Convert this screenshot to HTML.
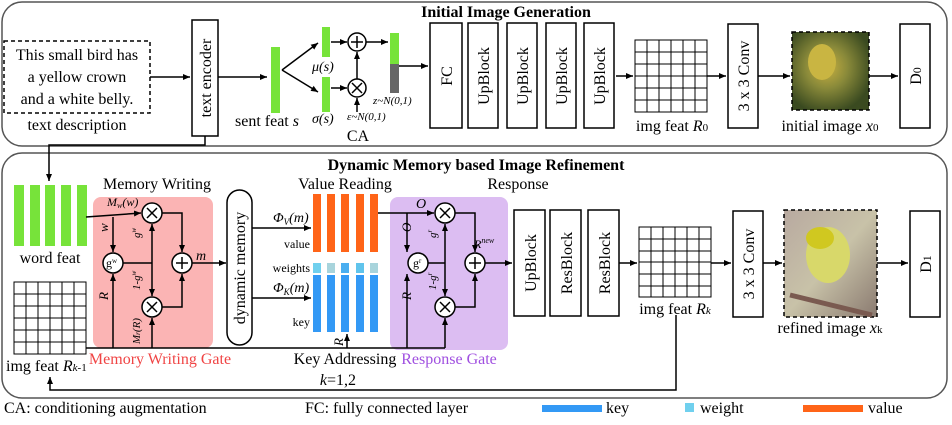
<!DOCTYPE html>
<html><head><meta charset="utf-8"><style>
body{margin:0;background:#fff}
svg,text,tspan{font-family:"Liberation Serif","DejaVu Serif",serif}
.t{font-size:16px}
.i{font-style:italic}
</style></head><body>
<svg width="952" height="420" viewBox="0 0 952 420" xmlns="http://www.w3.org/2000/svg" font-family="Liberation Serif, serif">
<defs>
<marker id="a" markerWidth="8" markerHeight="8" refX="7" refY="4" orient="auto" markerUnits="userSpaceOnUse"><path d="M0,1 L7,4 L0,7 z" fill="#000"/></marker>
<radialGradient id="b0" cx="0.45" cy="0.45" r="0.6"><stop offset="0" stop-color="#c8b040"/><stop offset="0.45" stop-color="#8a8a3a"/><stop offset="1" stop-color="#3a4a20"/></radialGradient>
<linearGradient id="b1" x1="0" y1="0" x2="1" y2="1"><stop offset="0" stop-color="#b8a9a0"/><stop offset="0.5" stop-color="#c8c2a8"/><stop offset="1" stop-color="#8a7a70"/></linearGradient>
</defs>
<g fill="none" stroke="#555" stroke-width="1.5">
<rect x="2" y="2" width="945" height="144" rx="20"/>
<rect x="2" y="153" width="945" height="245" rx="20"/>
</g>
<g font-weight="bold" font-size="16" text-anchor="middle">
<text x="506" y="17">Initial Image Generation</text>
<text x="476" y="170">Dynamic Memory based Image Refinement</text>
</g>
<!-- top -->
<rect x="4" y="41" width="146" height="72" fill="none" stroke="#000" stroke-width="1.5" stroke-dasharray="4,3"/>
<g class="t" text-anchor="middle">
<text x="77" y="60">This small bird has</text>
<text x="77" y="82">a yellow crown</text>
<text x="77" y="104">and a white belly.</text>
<text x="77" y="130">text description</text>
</g>
<g stroke="#000" stroke-width="1.5" fill="none" marker-end="url(#a)">
<line x1="150" y1="77" x2="190" y2="77"/>
<line x1="218" y1="77" x2="267" y2="77"/>
<line x1="282" y1="70" x2="318" y2="43"/>
<line x1="282" y1="70" x2="318" y2="92"/>
<line x1="331" y1="42" x2="347" y2="42"/>
<line x1="331" y1="88" x2="347" y2="88"/>
<line x1="357" y1="79" x2="357" y2="52"/>
<line x1="357" y1="112" x2="357" y2="98"/>
<line x1="366" y1="42" x2="388" y2="42"/>
<line x1="398" y1="66" x2="428" y2="66"/>
<line x1="616" y1="76" x2="633" y2="76"/>
<line x1="707" y1="76" x2="726" y2="76"/>
<line x1="758" y1="76" x2="790" y2="76"/>
<line x1="869" y1="76" x2="898" y2="76"/>
<polyline points="205,136 205,145 49,145 49,181"/>
</g>
<g fill="#fff" stroke="#000" stroke-width="1.5">
<rect x="192" y="20" width="26" height="116"/>
<rect x="430" y="23" width="32" height="105"/>
<rect x="468" y="23" width="30" height="105"/>
<rect x="507" y="23" width="30" height="105"/>
<rect x="546" y="23" width="30" height="105"/>
<rect x="584" y="23" width="30" height="105"/>
<rect x="728" y="24" width="30" height="104"/>
<rect x="900" y="24" width="30" height="104"/>
<circle cx="357" cy="42" r="9"/><circle cx="357" cy="88" r="9"/>
</g>
<g stroke="#000" stroke-width="1.5">
<path d="M351,42h12M357,36v12"/>
<path d="M352,83l10,10M362,83l-10,10"/>
</g>
<rect x="271" y="47" width="9" height="66" fill="#77e33a"/>
<rect x="322" y="27" width="8" height="30" fill="#77e33a"/>
<rect x="322" y="77" width="8" height="35" fill="#77e33a"/>
<rect x="390" y="33" width="9" height="31" fill="#77e33a"/>
<rect x="390" y="64" width="9" height="29" fill="#666"/>
<g class="t">
<text x="235" y="126">sent feat <tspan class="i">s</tspan></text>
<text x="312" y="71" class="i" font-size="14">μ(s)</text>
<text x="312" y="123" class="i" font-size="14">σ(s)</text>
<text x="347" y="120" class="i" font-size="11">ε~N(0,1)</text>
<text x="373" y="104" class="i" font-size="11">z~N(0,1)</text>
<text x="358" y="141" text-anchor="middle">CA</text>
</g>
<!-- grids -->
<g fill="none" stroke="#000" stroke-width="1">
<rect x="635" y="40" width="72" height="72"/>
<path d="M647,40v72M659,40v72M671,40v72M683,40v72M695,40v72M635,52h72M635,64h72M635,76h72M635,88h72M635,100h72"/>
<rect x="14" y="282" width="72" height="72"/>
<path d="M26,282v72M38,282v72M50,282v72M62,282v72M74,282v72M14,294h72M14,306h72M14,318h72M14,330h72M14,342h72"/>
<rect x="639" y="227" width="72" height="70"/>
<path d="M651,227v70M663,227v70M675,227v70M687,227v70M699,227v70M639,239h72M639,251h72M639,262h72M639,274h72M639,286h72"/>
</g>
<text x="672" y="131" class="t" text-anchor="middle">img feat <tspan class="i">R</tspan><tspan font-size="11">0</tspan></text>
<rect x="792" y="32" width="77" height="78" fill="url(#b0)" stroke="#000" stroke-width="1.5" stroke-dasharray="4,3"/>
<ellipse cx="822" cy="62" rx="14" ry="18" fill="#c9b542"/>
<text x="830" y="131" class="t" text-anchor="middle">initial image <tspan class="i">x</tspan><tspan font-size="11">0</tspan></text>
<!-- bottom -->
<g fill="#77e33a"><rect x="14" y="185" width="10" height="61"/><rect x="30" y="185" width="10" height="61"/><rect x="45" y="185" width="10" height="61"/><rect x="61" y="185" width="10" height="61"/><rect x="77" y="185" width="10" height="61"/></g>
<text x="50" y="263" class="t" text-anchor="middle" font-size="17">word feat</text>
<text x="6" y="371" class="t" font-size="17">img feat <tspan class="i">R</tspan><tspan font-size="11" class="i">k</tspan><tspan font-size="11">-1</tspan></text>
<rect x="93" y="197" width="120" height="151" rx="8" fill="#fbb4b4"/>
<rect x="390" y="197" width="118" height="153" rx="8" fill="#dcbdf2"/>
<g class="t" text-anchor="middle" font-size="14">
<text x="157" y="189">Memory Writing</text>
<text x="345" y="189">Value Reading</text>
<text x="518" y="189">Response</text>
<text x="160" y="364" fill="#f04444">Memory Writing Gate</text>
<text x="345" y="364">Key Addressing</text>
<text x="449" y="364" fill="#a050e0">Response Gate</text>
<text x="338" y="385"><tspan class="i">k</tspan>=1,2</text>
</g>
<rect x="227" y="190" width="25" height="155" rx="12.5" fill="#fff" stroke="#000" stroke-width="1.5"/>
<text transform="translate(245,268) rotate(-90)" class="t" font-size="17" text-anchor="middle">dynamic memory</text>
<g fill="#ff6418"><rect x="313" y="194" width="8" height="58"/><rect x="327" y="194" width="8" height="58"/><rect x="341" y="194" width="8" height="58"/><rect x="356" y="194" width="8" height="58"/><rect x="370" y="194" width="8" height="58"/></g>
<rect x="313" y="263" width="8" height="10" fill="#70d0ee"/><rect x="327" y="263" width="8" height="10" fill="#a8d4dc"/><rect x="341" y="263" width="8" height="10" fill="#4aaef0"/><rect x="356" y="263" width="8" height="10" fill="#60c4ec"/><rect x="370" y="263" width="8" height="10" fill="#a8d4dc"/>
<g fill="#3399f5"><rect x="313" y="275" width="8" height="57"/><rect x="327" y="275" width="8" height="57"/><rect x="341" y="275" width="8" height="57"/><rect x="356" y="275" width="8" height="57"/><rect x="370" y="275" width="8" height="57"/></g>
<g font-size="12" text-anchor="end"><text x="310" y="248">value</text><text x="310" y="272">weights</text><text x="310" y="326">key</text></g>
<g class="i" font-size="14">
<text x="273" y="222">Φ<tspan font-size="9" dy="3">V</tspan><tspan dy="-3">(m)</tspan></text>
<text x="273" y="292">Φ<tspan font-size="9" dy="3">K</tspan><tspan dy="-3">(m)</tspan></text>
<text x="107" y="206" font-size="12">M<tspan font-size="8" dy="2">w</tspan><tspan dy="-2">(w)</tspan></text>
<text x="196" y="260">m</text>
<text x="416" y="208">O</text>
<text x="474" y="248" font-size="12">R<tspan font-size="8" dy="-5">new</tspan></text>
</g>
<g class="i" font-size="13">
<text transform="translate(108,232) rotate(-90)">w</text>
<text transform="translate(108,300) rotate(-90)">R</text>
<text transform="translate(140,238) rotate(-90)" font-size="11">g<tspan font-size="7" dy="-4">w</tspan></text>
<text transform="translate(140,290) rotate(-90)" font-size="11">1-g<tspan font-size="7" dy="-4">w</tspan></text>
<text transform="translate(140,344) rotate(-90)" font-size="11">M<tspan font-size="7">r</tspan>(R)</text>
<text transform="translate(343,346) rotate(-90)">R</text>
<text transform="translate(411,232) rotate(-90)">O</text>
<text transform="translate(411,300) rotate(-90)">R</text>
<text transform="translate(436,238) rotate(-90)" font-size="11">g<tspan font-size="7" dy="-4">r</tspan></text>
<text transform="translate(436,290) rotate(-90)" font-size="11">1-g<tspan font-size="7" dy="-4">r</tspan></text>
</g>
<g stroke="#000" stroke-width="1.5" fill="none" marker-end="url(#a)">
<line x1="86" y1="217" x2="141" y2="213"/>
<line x1="113" y1="217" x2="113" y2="252"/>
<line x1="113" y1="348" x2="113" y2="274"/>
<line x1="152" y1="263" x2="152" y2="224"/>
<line x1="152" y1="263" x2="152" y2="296"/>
<line x1="152" y1="348" x2="152" y2="318"/>
<polyline points="162,213 182,213 182,252"/>
<polyline points="162,307 182,307 182,274"/>
<line x1="192" y1="263" x2="226" y2="263"/>
<line x1="252" y1="228" x2="311" y2="228"/>
<line x1="252" y1="298" x2="311" y2="298"/>
<line x1="347" y1="348" x2="347" y2="334"/>
<line x1="378" y1="213" x2="434" y2="213"/>
<line x1="407" y1="213" x2="407" y2="252"/>
<line x1="407" y1="348" x2="407" y2="274"/>
<line x1="445" y1="263" x2="445" y2="224"/>
<line x1="445" y1="263" x2="445" y2="296"/>
<line x1="445" y1="348" x2="445" y2="318"/>
<polyline points="455,213 475,213 475,252"/>
<polyline points="455,307 475,307 475,274"/>
<line x1="485" y1="263" x2="512" y2="263"/>
<line x1="619" y1="263" x2="637" y2="263"/>
<line x1="711" y1="263" x2="731" y2="263"/>
<line x1="763" y1="263" x2="782" y2="263"/>
<line x1="877" y1="263" x2="908" y2="263"/>
<polyline points="676,315 676,390 50,390 50,377"/>
</g>
<g stroke="#000" stroke-width="1.5" fill="none">
<line x1="86" y1="348" x2="445" y2="348"/>
<line x1="123" y1="263" x2="152" y2="263"/>
<line x1="428" y1="263" x2="445" y2="263"/>
</g>
<g fill="#fff" stroke="#000" stroke-width="1.5">
<circle cx="113" cy="263" r="10"/><circle cx="152" cy="213" r="10"/><circle cx="182" cy="263" r="10"/><circle cx="152" cy="307" r="10"/>
<circle cx="418" cy="263" r="10"/><circle cx="445" cy="213" r="10"/><circle cx="475" cy="263" r="10"/><circle cx="445" cy="307" r="10"/>
<rect x="514" y="210" width="31" height="106"/><rect x="550" y="210" width="31" height="106"/><rect x="588" y="210" width="31" height="106"/>
<rect x="733" y="211" width="30" height="106"/><rect x="910" y="211" width="30" height="106"/>
</g>
<g stroke="#000" stroke-width="1.5">
<path d="M147,208l10,10M157,208l-10,10M147,302l10,10M157,302l-10,10M176,263h12M182,257v12"/>
<path d="M440,208l10,10M450,208l-10,10M440,302l10,10M450,302l-10,10M469,263h12M475,257v12"/>
</g>
<g class="t" font-size="17" text-anchor="middle">
<text transform="translate(211,78) rotate(-90)">text encoder</text>
<text transform="translate(452,76) rotate(-90)">FC</text>
<text transform="translate(489,76) rotate(-90)">UpBlock</text>
<text transform="translate(528,76) rotate(-90)">UpBlock</text>
<text transform="translate(567,76) rotate(-90)">UpBlock</text>
<text transform="translate(605,76) rotate(-90)">UpBlock</text>
<text transform="translate(749,76) rotate(-90)">3 x 3 Conv</text>
<text transform="translate(921,76) rotate(-90)">D<tspan font-size="12">0</tspan></text>
<text transform="translate(536,263) rotate(-90)">UpBlock</text>
<text transform="translate(572,263) rotate(-90)">ResBlock</text>
<text transform="translate(610,263) rotate(-90)">ResBlock</text>
<text transform="translate(754,264) rotate(-90)">3 x 3 Conv</text>
<text transform="translate(931,264) rotate(-90)">D<tspan font-size="12">1</tspan></text>
</g>
<text x="106" y="267" font-size="12">g<tspan font-size="7" dy="-4">w</tspan></text>
<text x="413" y="267" font-size="12">g<tspan font-size="7" dy="-4">r</tspan></text>
<text x="675" y="314" class="t" text-anchor="middle">img feat <tspan class="i">R</tspan><tspan font-size="11" class="i">k</tspan></text>
<rect x="784" y="210" width="93" height="107" fill="url(#b1)" stroke="#000" stroke-width="1.5" stroke-dasharray="4,3"/>
<ellipse cx="828" cy="255" rx="22" ry="28" fill="#d8d86a"/>
<ellipse cx="820" cy="238" rx="14" ry="11" fill="#d0c820"/>
<line x1="790" y1="295" x2="872" y2="315" stroke="#7a5a50" stroke-width="5"/>
<text x="830" y="333" class="t" text-anchor="middle">refined image <tspan class="i">x</tspan><tspan font-size="11">k</tspan></text>
<!-- legend -->
<g class="t">
<text x="4" y="413">CA: conditioning augmentation</text>
<text x="305" y="413">FC: fully connected layer</text>
<text x="606" y="413">key</text>
<text x="700" y="413">weight</text>
<text x="868" y="413">value</text>
</g>
<rect x="542" y="405" width="60" height="7" fill="#3399f5"/>
<rect x="685" y="403" width="9" height="9" fill="#70d0ee"/>
<rect x="803" y="405" width="60" height="7" fill="#ff6418"/>
</svg>
</body></html>
